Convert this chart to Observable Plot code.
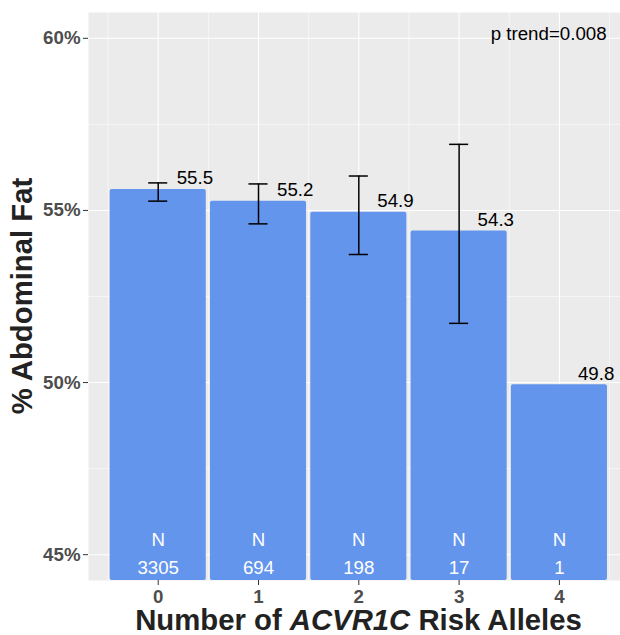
<!DOCTYPE html>
<html>
<head>
<meta charset="utf-8">
<script src="https://cdn.jsdelivr.net/npm/d3@7"></script>
<script src="https://cdn.jsdelivr.net/npm/@observablehq/plot@0.6"></script>
<style>
  html, body { margin: 0; padding: 0; background: #fff; overflow: hidden; }
  #chart svg { display: block; }
</style>
</head>
<body>
<div id="chart"></div>
<script>
// ---- data ----
const alleles = [0, 1, 2, 3, 4];
const meanFat = [55.61, 55.27, 54.95, 54.40, 49.94];
const meanLabels = ["55.5", "55.2", "54.9", "54.3", "49.8"];
const ciLow = [55.27, 54.61, 53.72, 51.72, null];
const ciHigh = [55.80, 55.77, 56.00, 56.92, null];
const counts = [3305, 694, 198, 17, 1];
const yTicks = [45, 50, 55, 60];
const yMinor = [47.5, 52.5, 57.5];
const xMinor = [-0.5, 0.5, 1.5, 2.5, 3.5, 4.5];
const pTrend = "p trend=0.008";

const rows = alleles.map((k, i) => ({
  k, mean: meanFat[i], label: meanLabels[i], lo: ciLow[i], hi: ciHigh[i], n: counts[i]
}));
const errRows = rows.filter(d => d.lo != null);

const yDomain = [44.25, 60.75];
const xDomain = [-0.695, 4.609];
const font = "'Liberation Sans', Arial, Helvetica, sans-serif";
const halfBar = 0.479;
const halfCap = 0.095;

const plot = Plot.plot({
  width: 620,
  height: 635,
  marginTop: 12,
  marginBottom: 55,
  marginLeft: 88,
  marginRight: 0,
  style: { fontFamily: font, background: "#fff" },
  x: { domain: xDomain, axis: null },
  y: { domain: yDomain, axis: null },
  marks: [
    Plot.frame({ fill: "#EBEBEB", stroke: "none" }),
    Plot.gridY(yMinor, { stroke: "#fff", strokeOpacity: 1, strokeWidth: 0.55 }),
    Plot.gridX(xMinor, { stroke: "#fff", strokeOpacity: 1, strokeWidth: 0.55 }),
    Plot.gridY(yTicks, { stroke: "#fff", strokeOpacity: 1, strokeWidth: 1.1 }),
    Plot.gridX(alleles, { stroke: "#fff", strokeOpacity: 1, strokeWidth: 1.1 }),
    Plot.rect(rows, {
      x1: d => d.k - halfBar, x2: d => d.k + halfBar,
      y1: yDomain[0], y2: "mean",
      fill: "#6495ED", rx: 2
    }),
    Plot.ruleX(errRows, { x: "k", y1: "lo", y2: "hi", stroke: "#000", strokeWidth: 1.5 }),
    Plot.ruleY(errRows, { y: "lo", x1: d => d.k - halfCap, x2: d => d.k + halfCap, stroke: "#000", strokeWidth: 1.5 }),
    Plot.ruleY(errRows, { y: "hi", x1: d => d.k - halfCap, x2: d => d.k + halfCap, stroke: "#000", strokeWidth: 1.5 }),
    Plot.text(rows, {
      x: "k", y: "mean", text: "label", dx: 18.5, dy: -11,
      textAnchor: "start", lineAnchor: "middle", fontSize: 18.7, fill: "#000"
    }),
    Plot.text(rows, {
      x: "k", y: 45.42, text: d => "N",
      lineAnchor: "middle", fontSize: 18.7, fill: "#fff"
    }),
    Plot.text(rows, {
      x: "k", y: 44.62, text: d => String(d.n),
      lineAnchor: "middle", fontSize: 18.7, fill: "#fff"
    }),
    Plot.text([pTrend], {
      x: 4.47, y: 60.13, text: d => d,
      textAnchor: "end", lineAnchor: "middle", fontSize: 18.7, fill: "#000"
    }),
    Plot.axisY(yTicks, {
      tickFormat: d => d + "%", tickSize: 5, tickPadding: 3,
      fontSize: 18.7, fontWeight: "bold", fill: "#4D4D4D", stroke: "#333", label: null
    }),
    Plot.axisX(alleles, {
      tickFormat: d => String(d), tickSize: 5, tickPadding: 4,
      fontSize: 18.7, fontWeight: "bold", fill: "#4D4D4D", stroke: "#333", label: null
    })
  ]
});

document.getElementById("chart").appendChild(plot);

// axis titles (with italic gene name)
const svg = d3.select(plot);
const xt = svg.append("text")
  .attr("x", 358.5).attr("y", 630)
  .attr("text-anchor", "middle")
  .attr("font-family", font).attr("font-size", 29.3).attr("font-weight", "bold")
  .attr("fill", "#222");
xt.append("tspan").text("Number of ");
xt.append("tspan").attr("font-style", "italic").text("ACVR1C");
xt.append("tspan").text(" Risk Alleles");

svg.append("text")
  .attr("transform", "translate(32,296) rotate(-90)")
  .attr("text-anchor", "middle")
  .attr("font-family", font).attr("font-size", 29.3).attr("font-weight", "bold")
  .attr("fill", "#222")
  .text("% Abdominal Fat");
</script>
</body>
</html>
